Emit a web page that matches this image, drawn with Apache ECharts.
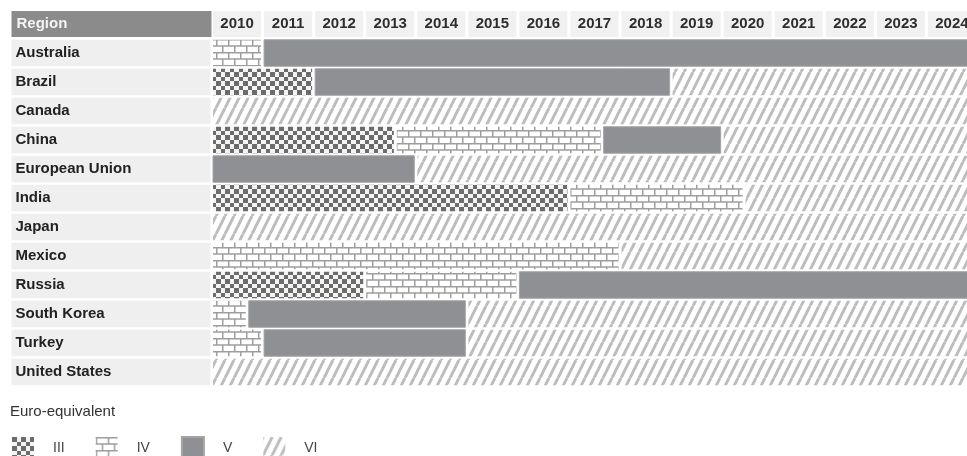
<!DOCTYPE html>
<html>
<head>
<meta charset="utf-8">
<script src="https://cdn.jsdelivr.net/npm/echarts/dist/echarts.min.js"></script>
<style>
  html, body { margin: 0; padding: 0; background: #fff; }
  #chart { width: 967px; height: 456px; }
</style>
</head>
<body>
<div id="chart"></div>
<script>
const regions = ['Australia', 'Brazil', 'Canada', 'China', 'European Union', 'India', 'Japan',
  'Mexico', 'Russia', 'South Korea', 'Turkey', 'United States'];
const years = ['2010', '2011', '2012', '2013', '2014', '2015', '2016', '2017',
  '2018', '2019', '2020', '2021', '2022', '2023', '2024'];

// [region, from, to]
const stageIII = [
  ['Brazil', 2010, 2012],
  ['China', 2010, 2013.6],
  ['India', 2010, 2017],
  ['Russia', 2010, 2013]
];
const stageIV = [
  ['Australia', 2010, 2011],
  ['China', 2013.6, 2017.65],
  ['India', 2017, 2020.43],
  ['Mexico', 2010, 2018],
  ['Russia', 2013, 2016],
  ['South Korea', 2010, 2010.7],
  ['Turkey', 2010, 2011]
];
const stageV = [
  ['Australia', 2011, 2025],
  ['Brazil', 2012, 2019],
  ['China', 2017.65, 2020],
  ['European Union', 2010, 2014],
  ['Russia', 2016, 2025],
  ['South Korea', 2010.7, 2015],
  ['Turkey', 2011, 2015]
];
const stageVI = [
  ['Brazil', 2019, 2025],
  ['Canada', 2010, 2025],
  ['China', 2020, 2025],
  ['European Union', 2014, 2025],
  ['India', 2020.43, 2025],
  ['Japan', 2010, 2025],
  ['Mexico', 2018, 2025],
  ['South Korea', 2015, 2025],
  ['Turkey', 2015, 2025],
  ['United States', 2010, 2025]
];

const font = 'Liberation Sans, Arial';

function tile(w, h, draw) {
  const c = document.createElement('canvas');
  c.width = w;
  c.height = h;
  draw(c.getContext('2d'));
  return { image: c, repeat: 'repeat' };
}

const checker = tile(9, 9, ctx => {
  ctx.fillStyle = '#f4f4f4';
  ctx.fillRect(0, 0, 9, 9);
  ctx.fillStyle = '#6c6c6c';
  ctx.fillRect(0, 0, 5, 5);
  ctx.fillRect(5, 5, 4, 4);
});

const brick = tile(12, 13, ctx => {
  ctx.fillStyle = '#ffffff';
  ctx.fillRect(0, 0, 12, 13);
  ctx.strokeStyle = '#9e9e9e';
  ctx.lineWidth = 1.5;
  ctx.beginPath();
  ctx.moveTo(0, 0.75); ctx.lineTo(12, 0.75);
  ctx.moveTo(0, 7); ctx.lineTo(12, 7);
  ctx.moveTo(0.75, 0); ctx.lineTo(0.75, 7);
  ctx.moveTo(6.75, 7); ctx.lineTo(6.75, 13);
  ctx.stroke();
});

const stripes = tile(9, 18, ctx => {
  ctx.fillStyle = '#ffffff';
  ctx.fillRect(0, 0, 9, 18);
  ctx.strokeStyle = '#bdbdbd';
  ctx.lineWidth = 3;
  ctx.beginPath();
  [-9, 0, 9].forEach(x0 => {
    ctx.moveTo(x0, 18);
    ctx.lineTo(x0 + 9, 0);
  });
  ctx.stroke();
});

function renderItem(params, api) {
  const cat = api.value(0);
  const p0 = api.coord([api.value(1), cat]);
  const p1 = api.coord([api.value(2), cat]);
  const h = api.size([0, 1])[1] - 2.5;
  return {
    type: 'rect',
    shape: { x: p0[0] + 1.5, y: p0[1] - h / 2, width: p1[0] - p0[0] - 3, height: h },
    style: api.style()
  };
}

function stage(name, data, itemStyle) {
  return {
    name: name,
    type: 'custom',
    xAxisIndex: 1,
    yAxisIndex: 0,
    renderItem: renderItem,
    dimensions: ['region', 'from', 'to'],
    encode: { y: 0, x: [1, 2] },
    itemStyle: itemStyle,
    data: data
  };
}

const chart = echarts.init(document.getElementById('chart'));
const option = {
  backgroundColor: '#fff',
  animation: false,
  title: {
    text: 'Euro-equivalent',
    left: 10,
    top: 404,
    padding: 0,
    textStyle: { fontSize: 15, fontWeight: 'normal', color: '#333', fontFamily: font }
  },
  legend: {
    left: 12,
    top: 436,
    padding: 0,
    icon: 'rect',
    itemWidth: 22,
    itemHeight: 22,
    itemGap: 31,
    selectedMode: false,
    textStyle: { fontSize: 14, color: '#444', padding: [0, 0, 0, 14], fontFamily: font },
    data: ['III', 'IV', 'V', 'VI']
  },
  grid: { left: 211.5, top: 38.5, width: 766, height: 348, outerBoundsMode: 'none' },
  xAxis: [
    {
      type: 'category',
      position: 'top',
      data: years,
      axisLine: { show: false },
      axisTick: { show: false },
      splitLine: { show: false },
      axisLabel: {
        interval: 0,
        margin: 1.5,
        formatter: v => '{y|' + v + '}',
        rich: {
          y: {
            width: 48, height: 26, lineHeight: 26, align: 'center',
            backgroundColor: '#f1f1f1', color: '#2e2e2e',
            fontSize: 15, fontWeight: 'bold', fontFamily: font
          }
        }
      }
    },
    { type: 'value', min: 2010, max: 2025, show: false, splitLine: { show: false } }
  ],
  yAxis: {
    type: 'category',
    inverse: true,
    data: regions,
    axisLine: { show: false },
    axisTick: { show: false },
    splitLine: { show: false },
    name: '{h|Region}',
    nameLocation: 'start',
    nameGap: 1.5,
    nameMoveOverlap: false,
    nameTextStyle: {
      align: 'right',
      verticalAlign: 'bottom',
      rich: {
        h: {
          width: 195, height: 26, lineHeight: 26, padding: [0, 0, 0, 5], align: 'left',
          backgroundColor: '#8b8b8b', color: '#f4f4f4',
          fontSize: 15, fontWeight: 'bold', fontFamily: font
        }
      }
    },
    axisLabel: {
      margin: 1,
      formatter: v => '{c|' + v + '}',
      rich: {
        c: {
          width: 195, height: 26.5, lineHeight: 26.5, padding: [0, 0, 0, 4], align: 'left',
          backgroundColor: '#efefef', color: '#222',
          fontSize: 15, fontWeight: 'bold', fontFamily: font
        }
      }
    }
  },
  series: [
    stage('III', stageIII, { color: checker }),
    stage('IV', stageIV, { color: brick }),
    stage('V', stageV, { color: '#8f9094', borderColor: '#a4a4a6', borderWidth: 1 }),
    stage('VI', stageVI, { color: stripes })
  ]
};
chart.setOption(option);
</script>
</body>
</html>
